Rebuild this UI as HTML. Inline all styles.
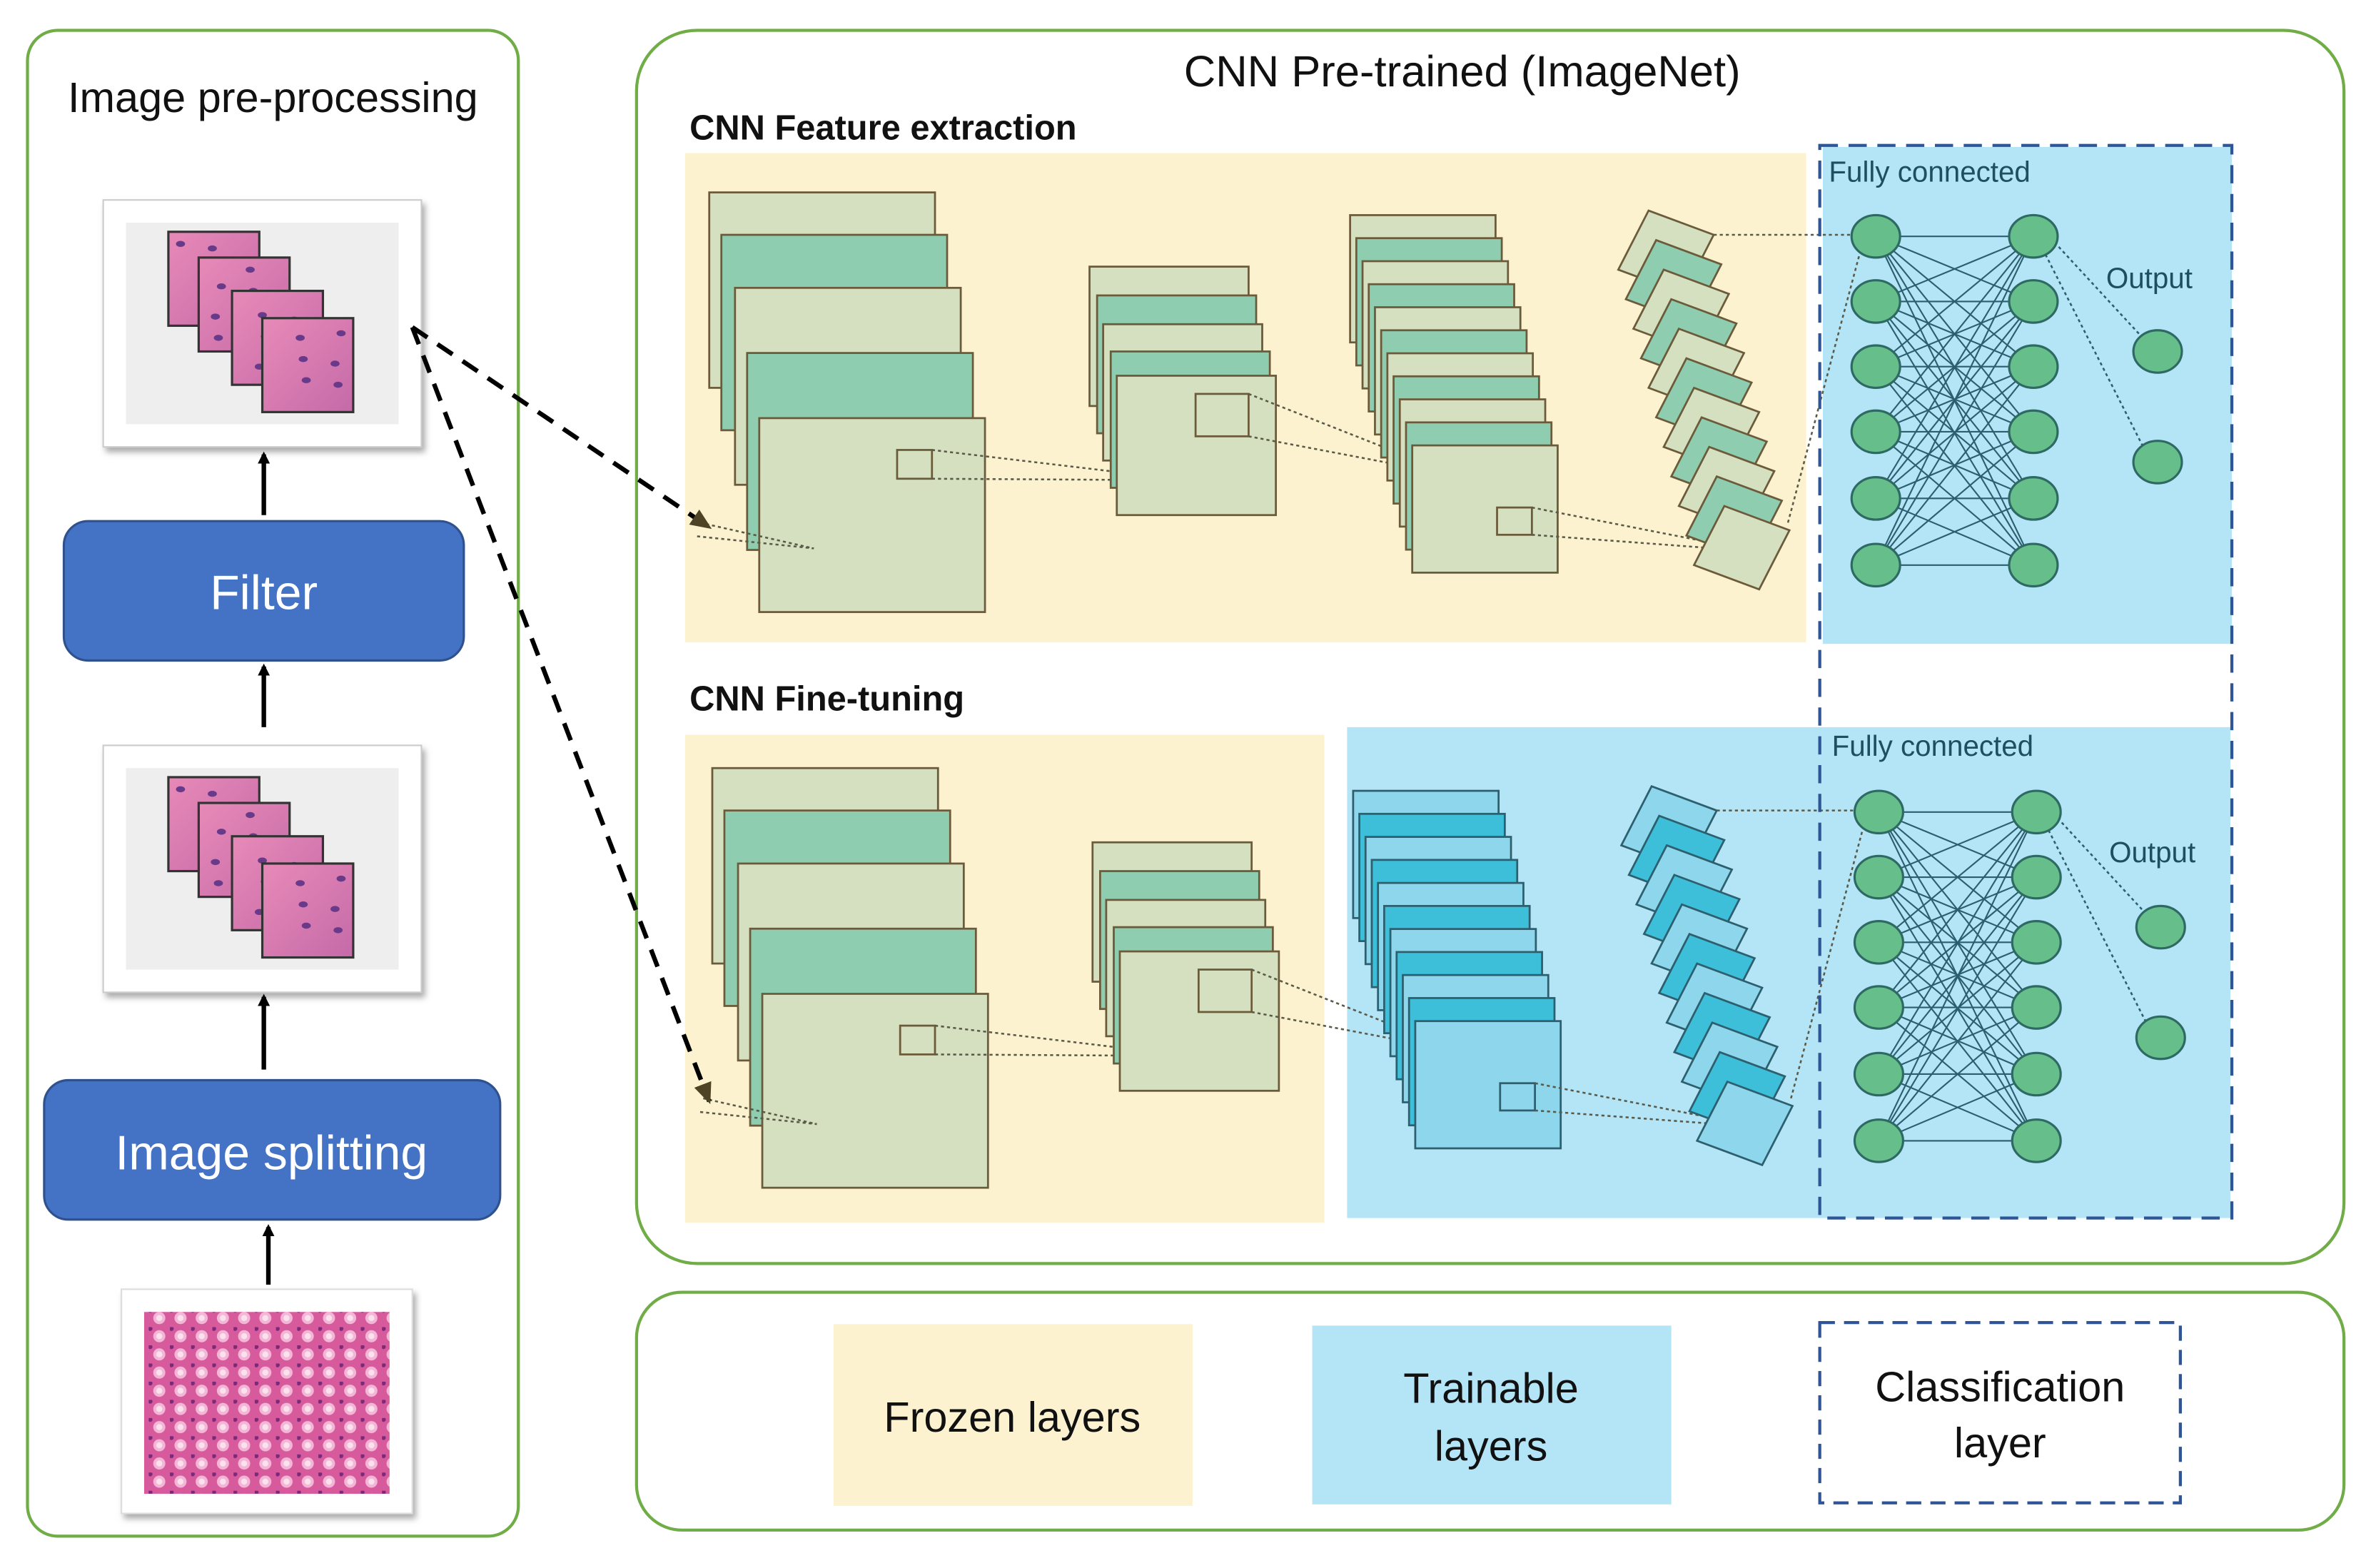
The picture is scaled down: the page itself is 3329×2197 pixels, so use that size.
<!DOCTYPE html>
<html><head><meta charset="utf-8"><style>
html,body{margin:0;padding:0;background:#fff;width:3329px;height:2197px;overflow:hidden}
svg{display:block}
text{font-family:"Liberation Sans",sans-serif}
</style></head><body>
<svg id="s" width="3329" height="2197" viewBox="0 0 1568 1035" xmlns="http://www.w3.org/2000/svg">
<defs>
<marker id="ah" markerWidth="8" markerHeight="8" refX="6" refY="4" orient="auto" markerUnits="userSpaceOnUse"><path d="M0,0 L8,4 L0,8 z" fill="#000"/></marker>
<marker id="ah2" markerWidth="14" markerHeight="12" refX="12" refY="6" orient="auto" markerUnits="userSpaceOnUse"><path d="M0,0 L14,6 L0,12 z" fill="#4d4325"/></marker>
<pattern id="tis" width="14" height="12" patternUnits="userSpaceOnUse">
<rect width="14" height="12" fill="#d65a9c"/><circle cx="7" cy="6" r="4" fill="#f3b6d6"/><circle cx="7" cy="6" r="2" fill="#fbe0ee"/><circle cx="1" cy="1" r="1.5" fill="#7a2a7a"/></pattern>
<linearGradient id="pk" x1="0" y1="0" x2="1" y2="1"><stop offset="0" stop-color="#e88ab8"/><stop offset="1" stop-color="#c46aa8"/></linearGradient>
<filter id="sh" x="-10%" y="-10%" width="125%" height="125%"><feDropShadow dx="2" dy="3" stdDeviation="2" flood-color="#888" flood-opacity="0.7"/></filter>
</defs>

<rect x="18" y="20" width="324" height="994" rx="20" fill="none" stroke="#70ad47" stroke-width="2"/>
<text x="180" y="74" font-size="28" text-anchor="middle" fill="#111">Image pre-processing</text>

<g id="img1"></g>
<rect x="42" y="344" width="264" height="92" rx="16" fill="#4472c4" stroke="#2f528f" stroke-width="1.5"/>
<text x="174" y="402" font-size="32" text-anchor="middle" fill="#fff">Filter</text>
<rect x="29" y="713" width="301" height="92" rx="16" fill="#4472c4" stroke="#2f528f" stroke-width="1.5"/>
<text x="179" y="772" font-size="32" text-anchor="middle" fill="#fff">Image splitting</text>

<line x1="174" y1="340" x2="174" y2="300" stroke="#000" stroke-width="3" marker-end="url(#ah)"/>
<line x1="174" y1="480" x2="174" y2="440" stroke="#000" stroke-width="3" marker-end="url(#ah)"/>
<line x1="174" y1="706" x2="174" y2="658" stroke="#000" stroke-width="3" marker-end="url(#ah)"/>
<line x1="177" y1="848" x2="177" y2="810" stroke="#000" stroke-width="3" marker-end="url(#ah)"/>

<rect x="80" y="851" width="192" height="148" fill="#fff" filter="url(#sh)" stroke="#ddd"/>
<rect x="95" y="866" width="162" height="120" fill="url(#tis)"/>

<rect x="420" y="20" width="1127" height="814" rx="40" fill="none" stroke="#70ad47" stroke-width="2"/>
<text x="965" y="57" font-size="29" text-anchor="middle" fill="#111">CNN Pre-trained (ImageNet)</text>
<text x="455" y="92" font-size="23" fill="#111" font-weight="bold">CNN Feature extraction</text>
<text x="455" y="469" font-size="23" fill="#111" font-weight="bold">CNN Fine-tuning</text>

<rect x="452" y="101" width="740" height="323" fill="#fdf2d0"/>
<rect x="1203" y="97" width="270" height="328" fill="#b3e5f7"/>
<rect x="452" y="485" width="422" height="322" fill="#fdf2d0"/>
<rect x="889" y="480" width="583" height="324" fill="#b3e5f7"/>

<g id="net"></g>

<rect x="1201" y="96" width="272" height="708" fill="none" stroke="#2f5597" stroke-width="2" stroke-dasharray="12,7"/>
<text x="1207" y="120" font-size="19" fill="#1f4e5f">Fully connected</text>
<text x="1390" y="190" font-size="19" fill="#1f4e5f">Output</text>
<text x="1209" y="499" font-size="19" fill="#1f4e5f">Fully connected</text>
<text x="1392" y="569" font-size="19" fill="#1f4e5f">Output</text>

<line x1="272" y1="216" x2="468" y2="348" stroke="#000" stroke-width="3" stroke-dasharray="12,8" marker-end="url(#ah2)"/>
<line x1="272" y1="216" x2="468" y2="727" stroke="#000" stroke-width="3" stroke-dasharray="12,8" marker-end="url(#ah2)"/>

<rect x="420" y="853" width="1127" height="157" rx="30" fill="none" stroke="#70ad47" stroke-width="2"/>
<rect x="550" y="874" width="237" height="120" fill="#fdf2d0"/>
<text x="668" y="945" font-size="28" text-anchor="middle" fill="#111">Frozen layers</text>
<rect x="866" y="875" width="237" height="118" fill="#b3e5f7"/>
<text x="984" y="926" font-size="28" text-anchor="middle" fill="#111">Trainable</text>
<text x="984" y="964" font-size="28" text-anchor="middle" fill="#111">layers</text>
<rect x="1201" y="873" width="238" height="119" fill="none" stroke="#2f5597" stroke-width="2" stroke-dasharray="10,6"/>
<text x="1320" y="925" font-size="28" text-anchor="middle" fill="#111">Classification</text>
<text x="1320" y="962" font-size="28" text-anchor="middle" fill="#111">layer</text>
</svg>
<script>
var NS="http://www.w3.org/2000/svg";
function el(p,t,a){var e=document.createElementNS(NS,t);for(var k in a)e.setAttribute(k,a[k]);p.appendChild(e);return e;}
var img=document.getElementById('img1');
[[68,132],[68,492]].forEach(function(o){
 var x=o[0],y=o[1];
 el(img,'rect',{x:x,y:y,width:210,height:163,fill:'#fff',stroke:'#ccc',filter:'url(#sh)'});
 el(img,'rect',{x:x+15,y:y+15,width:180,height:133,fill:'#eee'});
 [[43,21],[63,38],[85,60],[105,78]].forEach(function(t,i){
  el(img,'rect',{x:x+t[0],y:y+t[1],width:60,height:62,fill:'url(#pk)',stroke:'#333','stroke-width':1.5});
  for(var j=0;j<6;j++)el(img,'ellipse',{cx:x+t[0]+8+((j*23+i*7)%48),cy:y+t[1]+8+((j*17+i*11)%48),rx:3,ry:2,fill:'#6a3a8a'});
 });
});
var g=document.getElementById('net');
var SK='#6b5b3a';
function dot(x1,y1,x2,y2,c){el(g,'line',{x1:x1,y1:y1,x2:x2,y2:y2,stroke:c||'#5a5a48','stroke-width':1.2,'stroke-dasharray':'2,2'});}
function build(dx,dy,blue){
 var L=blue?'#8dd6ec':'#d5e0c0',T=blue?'#3dbfda':'#8fcdb0',S=blue?'#2d5f6e':SK;
 var FL='#d5e0c0',FT='#8fcdb0';
 var g1=[[468,127,256],[476,155,284],[485,190,320],[493,233,363],[501,276,404]];
 g1.forEach(function(r,i){el(g,'rect',{x:r[0]+dx,y:r[1]+dy,width:149,height:r[2]-r[1],fill:i%2?FT:FL,stroke:SK,'stroke-width':1.3});});
 el(g,'rect',{x:592+dx,y:297+dy,width:23,height:19,fill:'none',stroke:SK,'stroke-width':1.3});
 dot(615+dx,297+dy,783+dx,317+dy);dot(615+dx,316+dy,783+dx,317+dy);
 dot(462+dx,345+dy,537+dx,362+dy);dot(460+dx,354+dy,537+dx,362+dy);
 var g2=[[719,176,268],[724,195,286],[728,214,304],[733,232,322],[737,248,340]];
 g2.forEach(function(r,i){el(g,'rect',{x:r[0]+dx,y:r[1]+dy,width:105,height:r[2]-r[1],fill:i%2?FT:FL,stroke:SK,'stroke-width':1.3});});
 el(g,'rect',{x:789+dx,y:260+dy,width:35,height:28,fill:'none',stroke:SK,'stroke-width':1.3});
 dot(824+dx,260+dy,961+dx,314+dy);dot(824+dx,288+dy,961+dx,314+dy);
 for(var i=0;i<11;i++){var x=891+i*4.1,y=142+i*15.2;
  el(g,'rect',{x:x+dx,y:y+dy,width:96,height:84,fill:i%2?T:L,stroke:S,'stroke-width':1.3});}
 el(g,'rect',{x:988+dx,y:335+dy,width:23,height:18,fill:'none',stroke:S,'stroke-width':1.3});
 dot(1011+dx,335+dy,1159+dx,364+dy);dot(1011+dx,353+dy,1159+dx,364+dy);
 for(var i=0;i<11;i++){var tx=1088+i*5+dx,ty=139+i*19.5+dy;
  var p=[[tx,ty],[tx+43,ty+16],[tx+23,ty+55],[tx-20,ty+39]];
  el(g,'polygon',{points:p.map(function(q){return q.join(',')}).join(' '),fill:i%2?T:L,stroke:S,'stroke-width':1.3});}
 dot(1131+dx,155+dy,1222+dx,155+dy);
 dot(1180+dx,345+dy,1228+dx,165+dy);
 var ys=[156,199,242,285,329,373];
 ys.forEach(function(a){ys.forEach(function(b){el(g,'line',{x1:1238+dx,y1:a+dy,x2:1342+dx,y2:b+dy,stroke:'#2b5e6e','stroke-width':1});});});
 dot(1356+dx,160+dy,1416+dx,225+dy,'#2b5e6e');dot(1350+dx,168+dy,1416+dx,298+dy,'#2b5e6e');
 ys.forEach(function(a){
  el(g,'ellipse',{cx:1238+dx,cy:a+dy,rx:16,ry:14,fill:'#66bf8a',stroke:'#2e6a63','stroke-width':1.5});
  el(g,'ellipse',{cx:1342+dx,cy:a+dy,rx:16,ry:14,fill:'#66bf8a',stroke:'#2e6a63','stroke-width':1.5});});
 [232,305].forEach(function(a){el(g,'ellipse',{cx:1424+dx,cy:a+dy,rx:16,ry:14,fill:'#66bf8a',stroke:'#2e6a63','stroke-width':1.5});});
}
build(0,0,false);
build(2,380,true);
</script>
</body></html>
